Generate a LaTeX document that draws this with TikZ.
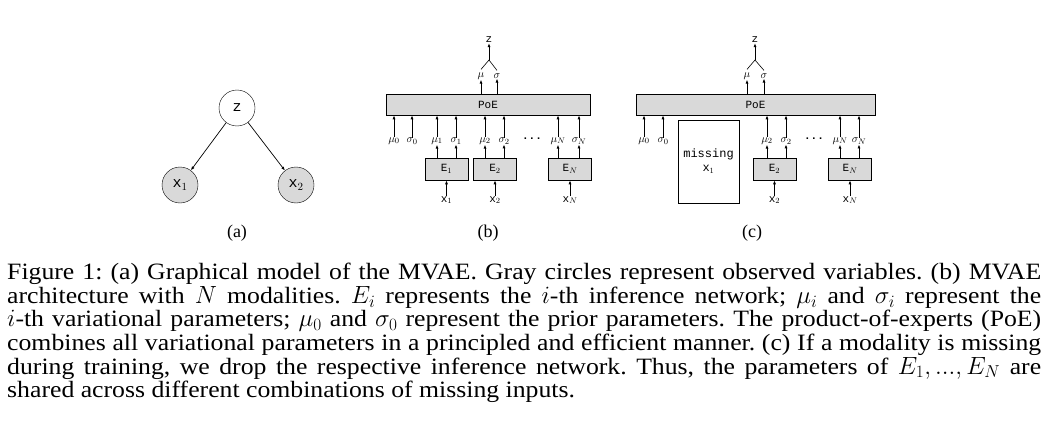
\documentclass[tikz,border=0pt]{standalone}
\usepackage{fontspec}
\setmainfont{Liberation Serif}
\newfontfamily\capfont{Liberation Serif}[FakeStretch=1.1]
\newfontfamily\mono{Liberation Mono}
\usetikzlibrary{arrows.meta}
\begin{document}
\frenchspacing
\begin{tikzpicture}[x=1pt,y=-1pt,
  lab/.style={font=\mono\fontsize{11}{12}\selectfont, inner sep=0pt},
  arr/.style={-{Latex[length=4pt,width=3pt]}, line width=0.9pt},
  box/.style={draw, fill=gray!30, line width=0.6pt, inner sep=0pt},
  obs/.style={circle, draw, fill=gray!30, minimum size=36pt, inner sep=0pt, font=\mono\fontsize{15}{16}\selectfont},
  sub/.style={font=\fontsize{18}{19}\selectfont}]
\useasboundingbox (0,0) rectangle (1063,444);
% (a)
\node[circle, draw, fill=white, minimum size=36pt, inner sep=0pt, font=\mono\fontsize{15}{16}\selectfont] (z) at (237,108) {z};
\node[obs] (x1) at (180,185) {x$_1$};
\node[obs] (x2) at (296,185) {x$_2$};
\draw[arr, line width=0.7pt] (z) -- (x1);
\draw[arr, line width=0.7pt] (z) -- (x2);
\node[sub] (la) at (237,233) {(a)};
% (b)
\node[box, minimum width=204pt, minimum height=21pt, lab] (poeb) at (488,104.5) {PoE};
\node[lab] (zb) at (489,40) {z};
\coordinate (fb) at (489,60);
\node[lab] (mub) at (481,76) {$\mu$};
\node[lab] (sgb) at (497,76) {$\sigma$};
\path (mub.north) ++(0,-3) coordinate (mbt) (sgb.north) ++(0,-3) coordinate (sbt);
\draw[line width=0.6pt] (mbt) -- (fb) -- (sbt);
\draw[arr] (fb) -- (zb.south);
\draw[arr] (mub.south |- poeb.north) -- (mub.south);
\draw[arr] (sgb.south |- poeb.north) -- (sgb.south);
\foreach \n/\x/\t in {m0/394/{$\mu_0$}, s0/412/{$\sigma_0$}, m1/437/{$\mu_1$}, s1/456/{$\sigma_1$}, m2/485/{$\mu_2$}, s2/504/{$\sigma_2$}, mN/558/{$\mu_N$}, sN/579/{$\sigma_N$}}{
  \node[lab] (b\n) at (\x,141) {\t};
  \draw[arr] (b\n.north) -- (b\n.north |- poeb.south);
}
\node[lab] (dotsb) at (532,139) {\textbf{...}};
\foreach \n/\c/\t/\xt/\m/\s in {1/446.5/E$_1$/x$_1$/m1/s1, 2/495/E$_2$/x$_2$/m2/s2, N/570/E$_N$/x$_N$/mN/sN}{
  \node[box, minimum width=43pt, minimum height=22pt, lab] (be\n) at (\c,169) {\t};
  \node[lab] (bx\n) at (\c,200) {\xt};
  \draw[arr] (bx\n.north) -- (be\n.south);
  \draw[arr] (b\m.south |- be\n.north) -- (b\m.south);
  \draw[arr] (b\s.south |- be\n.north) -- (b\s.south);
}
\node[sub] (lb) at (488,233) {(b)};
% (c)
\node[box, minimum width=239pt, minimum height=21pt, lab] (poec) at (755.5,104.5) {PoE};
\node[lab] (zc) at (755,40) {z};
\coordinate (fc) at (755,60);
\node[lab] (muc) at (747,76) {$\mu$};
\node[lab] (sgc) at (764,76) {$\sigma$};
\path (muc.north) ++(0,-3) coordinate (mct) (sgc.north) ++(0,-3) coordinate (sct);
\draw[line width=0.6pt] (mct) -- (fc) -- (sct);
\draw[arr] (fc) -- (zc.south);
\draw[arr] (muc.south |- poec.north) -- (muc.south);
\draw[arr] (sgc.south |- poec.north) -- (sgc.south);
\foreach \n/\x/\t in {m0/644/{$\mu_0$}, s0/663/{$\sigma_0$}, m2/767/{$\mu_2$}, s2/786/{$\sigma_2$}, mN/840/{$\mu_N$}, sN/859/{$\sigma_N$}}{
  \node[lab] (c\n) at (\x,141) {\t};
  \draw[arr] (c\n.north) -- (c\n.north |- poec.south);
}
\node[lab] (dotsc) at (814,139) {\textbf{...}};
\node[draw, line width=0.6pt, minimum width=61pt, minimum height=83pt, lab, font=\mono\fontsize{12}{13}\selectfont, align=center] (miss) at (708.5,161.5) {missing\\[1pt]x$_1$};
\foreach \n/\c/\t/\xt/\m/\s in {2/774.5/E$_2$/x$_2$/m2/s2, N/850/E$_N$/x$_N$/mN/sN}{
  \node[box, minimum width=43pt, minimum height=22pt, lab] (ce\n) at (\c,169) {\t};
  \node[lab] (cx\n) at (\c,200) {\xt};
  \draw[arr] (cx\n.north) -- (ce\n.south);
  \draw[arr] (c\m.south |- ce\n.north) -- (c\m.south);
  \draw[arr] (c\s.south |- ce\n.north) -- (c\s.south);
}
\node[sub] (lc) at (752,233) {(c)};
% caption
\node[anchor=north west, inner sep=0pt, text width=1034pt, align=justify, font=\capfont\fontsize{23.4}{23.6}\selectfont] (cap) at (7,263) {Figure 1: (a) Graphical model of the MVAE. Gray circles represent observed variables. (b) MVAE\linebreak architecture with $N$ modalities. $E_i$ represents the $i$-th inference network; $\mu_i$ and $\sigma_i$ represent the\linebreak $i$-th variational parameters; $\mu_0$ and $\sigma_0$ represent the prior parameters. The product-of-experts (PoE)\linebreak combines all variational parameters in a principled and efficient manner. (c) If a modality is missing\linebreak during training, we drop the respective inference network. Thus, the parameters of $E_1,...,E_N$ are\linebreak shared across different combinations of missing inputs.};
\end{tikzpicture}
\end{document}
